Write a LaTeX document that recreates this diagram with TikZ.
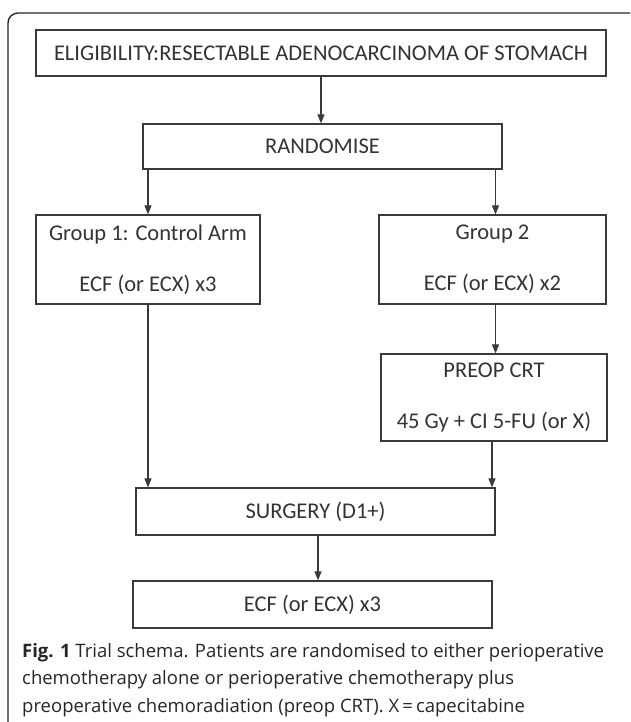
\documentclass[tikz,border=0pt]{standalone}
\usepackage{fontspec}
\setmainfont{Open Sans}
\newfontfamily\boxfont{Carlito}
\usetikzlibrary{arrows.meta,calc}
\definecolor{linegray}{HTML}{3A3A3A}
\definecolor{textgray}{HTML}{333333}
\definecolor{captiongray}{HTML}{262626}
\begin{document}
\begin{tikzpicture}[x=1pt,y=-1pt,
  box/.style={draw=linegray,line width=1.2pt,inner sep=0pt,align=center,
    text=textgray,font=\boxfont\fontsize{22.5}{27}\selectfont},
  conn/.style={draw=linegray,line width=1.1pt,-{Triangle[width=7pt,length=9pt]}}]
\useasboundingbox (0,0) rectangle (630,722);
\begin{scope}
  \clip (0,0) rectangle (630,722);
  \draw[line width=1.4pt,draw=black!85,rounded corners=10pt] (8,13) rectangle (642,736);
\end{scope}
\node[box,minimum width=570pt,minimum height=46pt] (elig) at (321,53)
  {ELIGIBILITY:RESECTABLE ADENOCARCINOMA OF STOMACH};
\node[box,minimum width=359pt,minimum height=45pt] (rand) at (322.5,146.5) {RANDOMISE};
\node[box,minimum width=224pt,minimum height=89pt] (g1) at (148,259.5)
  {Group 1: Control Arm\\[24pt]ECF (or ECX) x3};
\node[box,minimum width=227pt,minimum height=89pt] (g2) at (492.5,259.5)
  {Group 2\\[24pt]ECF (or ECX) x2};
\node[box,minimum width=226pt,minimum height=87pt] (preop) at (494,397.5)
  {PREOP CRT\\[24pt]45 Gy + CI 5-FU (or X)};
\node[box,minimum width=359pt,minimum height=47pt] (surg) at (315.5,511.5) {SURGERY (D1+)};
\node[box,minimum width=359pt,minimum height=47pt] (final) at (312.5,604.5) {ECF (or ECX) x3};
\draw[conn] (elig.south) -- (elig.south |- rand.north);
\draw[conn] (rand.south -| g1.north) -- (g1.north);
\draw[conn] ($(rand.south -| g2.north)+(3,0)$) -- ($(g2.north)+(3,0)$);
\draw[conn] ($(g2.south)+(3,0)$) -- ($(g2.south |- preop.north)+(3,0)$);
\draw[conn] (g1.south) -- (g1.south |- surg.north);
\draw[conn] ($(preop.south)+(-2,0)$) -- ($(preop.south |- surg.north)+(-2,0)$);
\draw[conn] ($(surg.south)+(2.5,0)$) -- ($(surg.south |- final.north)+(2.5,0)$);
\node[anchor=north west,inner sep=0pt,align=left,text=captiongray,
  font=\fontsize{18.5}{27.5}\selectfont] (cap) at (22,643)
  {\textbf{Fig. 1} Trial schema. Patients are randomised to either perioperative\\
   chemotherapy alone or perioperative chemotherapy plus\\
   preoperative chemoradiation (preop CRT). X\,=\,capecitabine};
\end{tikzpicture}
\end{document}
